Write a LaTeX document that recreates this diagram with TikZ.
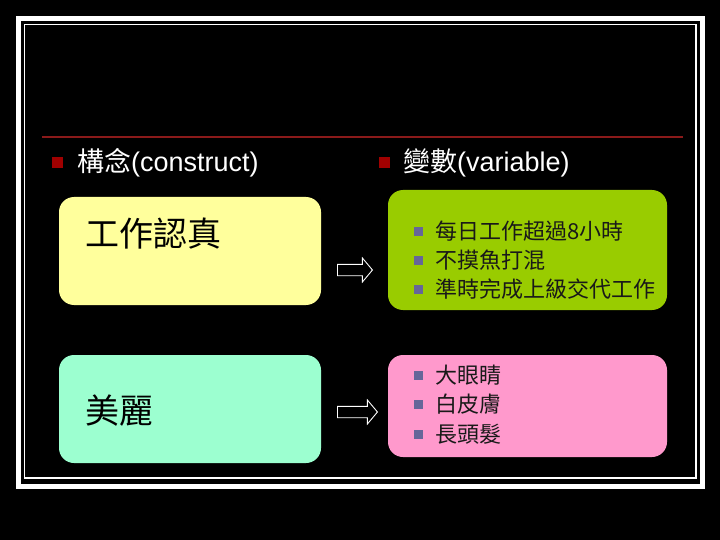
\documentclass[tikz,border=0pt]{standalone}
\usepackage{fontspec}
\setmainfont{Liberation Sans}
\newfontfamily\cjk{Noto Sans CJK TC}
\usepackage{tikz}
\usetikzlibrary{shapes.arrows, positioning}

\definecolor{rulered}{RGB}{139,26,26}
\definecolor{dotred}{RGB}{160,0,0}
\definecolor{dotblue}{RGB}{102,102,153}
\definecolor{boxyellow}{RGB}{255,255,156}
\definecolor{boxmint}{RGB}{156,255,208}
\definecolor{boxgreen}{RGB}{153,204,0}
\definecolor{boxpink}{RGB}{255,153,204}

\tikzset{
  cardbox/.style={rounded corners=15pt, inner sep=0pt},
  redsq/.style={fill=dotred, minimum size=11pt, inner sep=0pt},
  bluesq/.style={fill=dotblue, minimum size=9pt, inner sep=0pt},
  headtext/.style={anchor=base west, inner sep=0pt, text=white, font=\fontsize{27}{30}\selectfont},
  bigtext/.style={anchor=west, inner sep=0pt, text=black, font=\cjk\fontsize{34}{38}\selectfont},
  itemtext/.style={anchor=west, inner sep=0pt, text=black!90, font=\cjk\fontsize{22}{25}\selectfont},
  blockarrow/.style={single arrow, draw=white, fill=black, line width=0.9pt, inner xsep=0pt, inner ysep=5.25pt,
    minimum width=23pt, single arrow head extend=6.25pt, single arrow tip angle=100, anchor=tail}
}

\begin{document}
\begin{tikzpicture}[x=1pt, y=-1pt]
      % background and frame
      \fill[black] (0,0) rectangle (720,540);
      \useasboundingbox (0,0) rectangle (720,540);
      \draw[white, line width=4.8pt] (18.3,18.2) rectangle (702.5,486.2);
      \draw[white, line width=1.3pt] (24.7,24.7) rectangle (696,478);
      \draw[rulered, line width=2pt] (42,137.5) -- (683,137.5);
      % headings
      \node[redsq] (dotc) at (57,162.5) {};
      \node[headtext] (construct) at (77,172) {{\cjk 構念}(construct)};
      \node[redsq] (dotv) at (384,163) {};
      \node[headtext] (variable) at (403,172) {{\cjk 變數}(variable)};
      % left boxes
      \node[cardbox, fill=boxyellow, minimum width=262pt, minimum height=108pt] (serious) at (190,251) {};
      \node[bigtext] (serioustext) at (85,234) {工作認真};
      \node[cardbox, fill=boxmint, minimum width=262pt, minimum height=108pt] (beauty) at (190,409) {};
      \node[bigtext] (beautytext) at (85,411) {美麗};
      % arrows
      \node[blockarrow, minimum height=35pt] (arrowa) at (337,270) {};
      \node[blockarrow, minimum height=40pt] (arrowb) at (337,412) {};
      % right boxes
      \node[cardbox, fill=boxgreen, minimum width=279pt, minimum height=120pt] (workvars) at (527.5,250) {};
      \node[bluesq] (wa) at (418,231.5) {};
      \node[itemtext] at (435,231.5) {每日工作超過8小時};
      \node[bluesq] (wb) at (418,260.5) {};
      \node[itemtext] at (435,260.5) {不摸魚打混};
      \node[bluesq] (wc) at (418,289.5) {};
      \node[itemtext] at (435,289.5) {準時完成上級交代工作};
      \node[cardbox, fill=boxpink, minimum width=279pt, minimum height=102pt] (beautyvars) at (527.5,406) {};
      \node[bluesq] (ba) at (418,375) {};
      \node[itemtext] at (435,375) {大眼睛};
      \node[bluesq] (bb) at (418,404.5) {};
      \node[itemtext] at (435,404.5) {白皮膚};
      \node[bluesq] (bc) at (418,434) {};
      \node[itemtext] at (435,434) {長頭髮};
    \end{tikzpicture}
\end{document}
